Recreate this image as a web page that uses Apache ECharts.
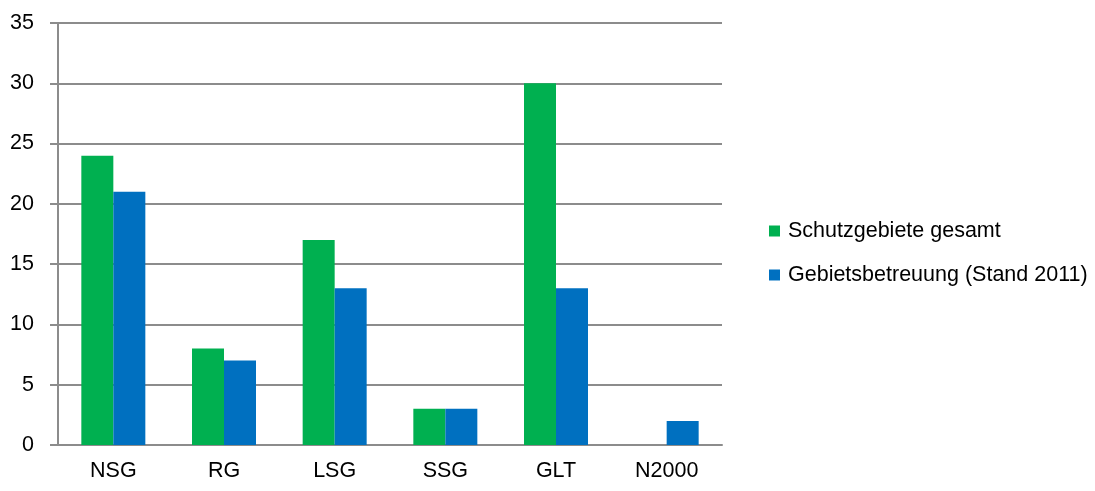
<!DOCTYPE html>
<html>
<head>
<meta charset="utf-8">
<script src="https://cdn.jsdelivr.net/npm/echarts@6/dist/echarts.min.js"></script>
<style>
  html, body { margin: 0; padding: 0; background: #fff; }
  #chart { width: 1095px; height: 491px; }
</style>
</head>
<body>
<div id="chart"></div>
<script>
// Protected area categories and counts
const categories = ['NSG', 'RG', 'LSG', 'SSG', 'GLT', 'N2000'];
const schutzgebieteGesamt = [24, 8, 17, 3, 30, null];
const gebietsbetreuung = [21, 7, 13, 3, 13, 2];
const yTicks = { min: 0, max: 35, interval: 5 };

const font = '"Liberation Sans", Arial, sans-serif';
const fs = 21.5;
const chart = echarts.init(document.getElementById('chart'));

chart.setOption({
  animation: false,
  textStyle: { fontFamily: font },
  grid: { left: 58, right: 373, top: 23, bottom: 46, containLabel: false },
  legend: {
    orient: 'vertical',
    left: 764,
    top: 215,
    itemWidth: 11,
    itemHeight: 11,
    itemGap: 22,
    icon: 'rect',
    textStyle: { fontFamily: font, fontSize: fs, color: '#000', padding: [0, 0, 0, 3] },
    data: ['Schutzgebiete gesamt', 'Gebietsbetreuung (Stand 2011)']
  },
  xAxis: {
    type: 'category',
    data: categories,
    axisLine: { show: true, lineStyle: { color: '#8c8c8c', width: 2 } },
    axisTick: { show: false },
    axisLabel: { fontFamily: font, fontSize: fs, color: '#000', margin: 15 }
  },
  yAxis: {
    type: 'value',
    min: yTicks.min,
    max: yTicks.max,
    interval: yTicks.interval,
    axisLine: { show: true, lineStyle: { color: '#8c8c8c', width: 2 } },
    axisTick: { show: true, length: 8, lineStyle: { color: '#8c8c8c', width: 2 } },
    splitLine: { show: true, lineStyle: { color: '#8c8c8c', width: 2 } },
    axisLabel: { fontFamily: font, fontSize: fs, color: '#000', margin: 24 }
  },
  series: [
    {
      name: 'Schutzgebiete gesamt',
      type: 'bar',
      data: schutzgebieteGesamt,
      barWidth: 32,
      barGap: '0%',
      itemStyle: { color: '#00b050' }
    },
    {
      name: 'Gebietsbetreuung (Stand 2011)',
      type: 'bar',
      data: gebietsbetreuung,
      barWidth: 32,
      barGap: '0%',
      itemStyle: { color: '#0070c0' }
    }
  ]
});
</script>
</body>
</html>
